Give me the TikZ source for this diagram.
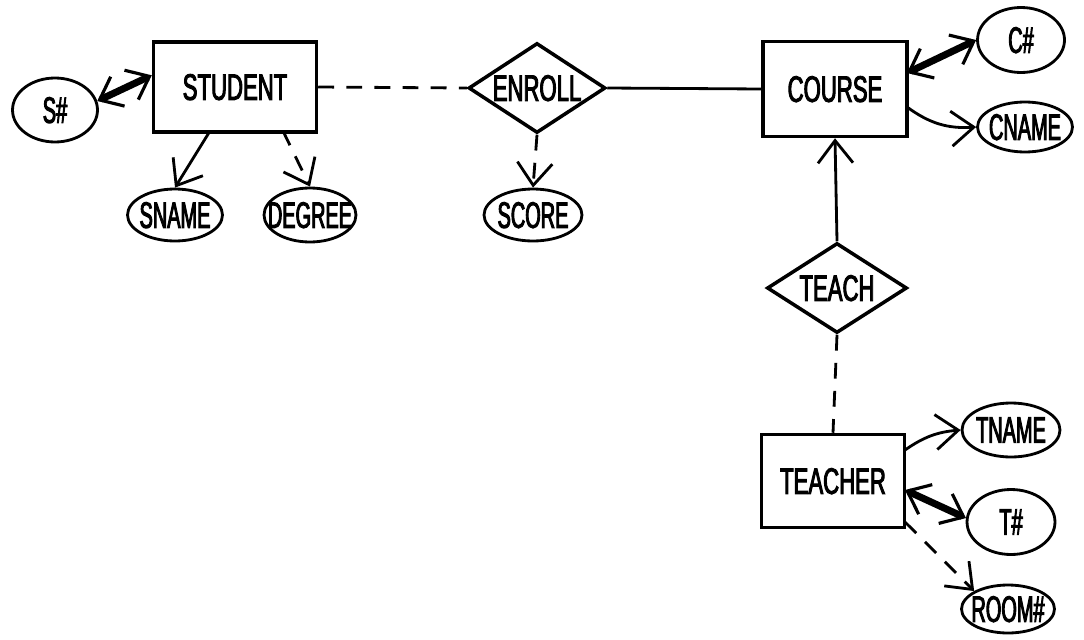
\documentclass[tikz,border=0pt]{standalone}
\usepackage{fontspec}
\setmainfont{Liberation Sans}[FakeStretch=0.6,FakeBold=2.5]
\newfontfamily\attrfont{Liberation Sans}[FakeStretch=0.54,FakeBold=2.5]
\usetikzlibrary{shapes.geometric,arrows.meta}

% text that takes no room, so the shape keeps its own size
\newcommand{\nosize}[1]{\makebox[0pt]{\raisebox{-0.5\height}[0pt][0pt]{#1}}}

\tikzset{
  lbl/.style={font=\fontsize{21}{25}\selectfont, inner sep=0pt},
  entity/.style={lbl, draw, line width=2pt, rectangle},
  relation/.style={lbl, draw, line width=2pt, diamond},
  attr/.style={lbl, font=\fontsize{21}{25}\selectfont\attrfont, draw, line width=1.6pt, ellipse},
  link/.style={line width=1.6pt},
  tip/.style={-{Straight Barb[length=4.5mm,width=7mm,line width=1.6pt]}},
  keylink/.style={line width=4pt, {Straight Barb[length=4mm,width=6.5mm,line width=1.8pt]}-{Straight Barb[length=4mm,width=6.5mm,line width=1.8pt]}},
  dashlink/.style={dash pattern=on 9pt off 7pt}
}

\begin{document}
\begin{tikzpicture}[x=0.02cm,y=-0.02cm]
\useasboundingbox (0,0) rectangle (1084,639);

% entities and relationships
\node[entity, minimum width=3.26cm, minimum height=1.8cm] (student) at (235,87) {\nosize{STUDENT}};
\node[relation, minimum width=2.74cm, minimum height=1.8cm] (enroll) at (537,88) {\nosize{ENROLL}};
\node[entity, minimum width=2.88cm, minimum height=1.9cm] (course) at (835,89) {\nosize{COURSE}};
\node[relation, minimum width=2.8cm, minimum height=1.8cm] (teach) at (837,288) {\nosize{TEACH}};
\node[entity, minimum width=2.86cm, minimum height=1.86cm] (teacher) at (833,481) {\nosize{TEACHER}};

% attributes
\node[attr, minimum width=1.7cm, minimum height=1.28cm] (sid) at (55,110) {\nosize{S\#}};
\node[attr, minimum width=1.9cm, minimum height=1.04cm] (sname) at (175,215) {\nosize{SNAME}};
\node[attr, minimum width=1.84cm, minimum height=1.08cm] (degree) at (310,215) {\nosize{DEGREE}};
\node[attr, minimum width=1.96cm, minimum height=1.04cm] (score) at (533,215) {\nosize{SCORE}};
\node[attr, minimum width=1.74cm, minimum height=1.3cm] (cid) at (1021,40) {\nosize{C\#}};
\node[attr, minimum width=1.9cm, minimum height=1.0cm] (cname) at (1025,127) {\nosize{CNAME}};
\node[attr, minimum width=1.96cm, minimum height=1.08cm] (tname) at (1011,430) {\nosize{TNAME}};
\node[attr, minimum width=1.76cm, minimum height=1.3cm] (tid) at (1011,522) {\nosize{T\#}};
\node[attr, minimum width=1.86cm, minimum height=0.96cm] (room) at (1008,609) {\nosize{ROOM\#}};

\coordinate (s1) at (210,131);
\coordinate (s2) at (283,131);
\coordinate (c1) at (907,73);
\coordinate (c2) at (907,107);
\coordinate (t1) at (905,450);
\coordinate (t2) at (905,490);
\coordinate (t3) at (905,522);

% connectors
\draw[keylink] (sid.12) -- (student.172);
\draw[link,tip] (s1) -- (sname.north);
\draw[link,tip,dashlink] (s2) -- (degree.north);
\draw[link,dashlink] (student.east) -- (enroll.west);
\draw[link,tip,dashlink] (enroll.south) -- (score.north);
\draw[link] (enroll.east) -- (course.west);
\draw[keylink] (c1) -- (cid.west);
\draw[link,tip] (c2) to[bend right=20] (cname.west);
\draw[link,tip] (teach.north) -- (course.south);
\draw[link,dashlink] (teach.south) -- (teacher.north);
\draw[link,tip] (t1) to[bend left=15] (tname.west);
\draw[keylink] (t2) -- (tid.175);
\draw[link,tip,dashlink] (t3) -- (room.north west);
\end{tikzpicture}
\end{document}
